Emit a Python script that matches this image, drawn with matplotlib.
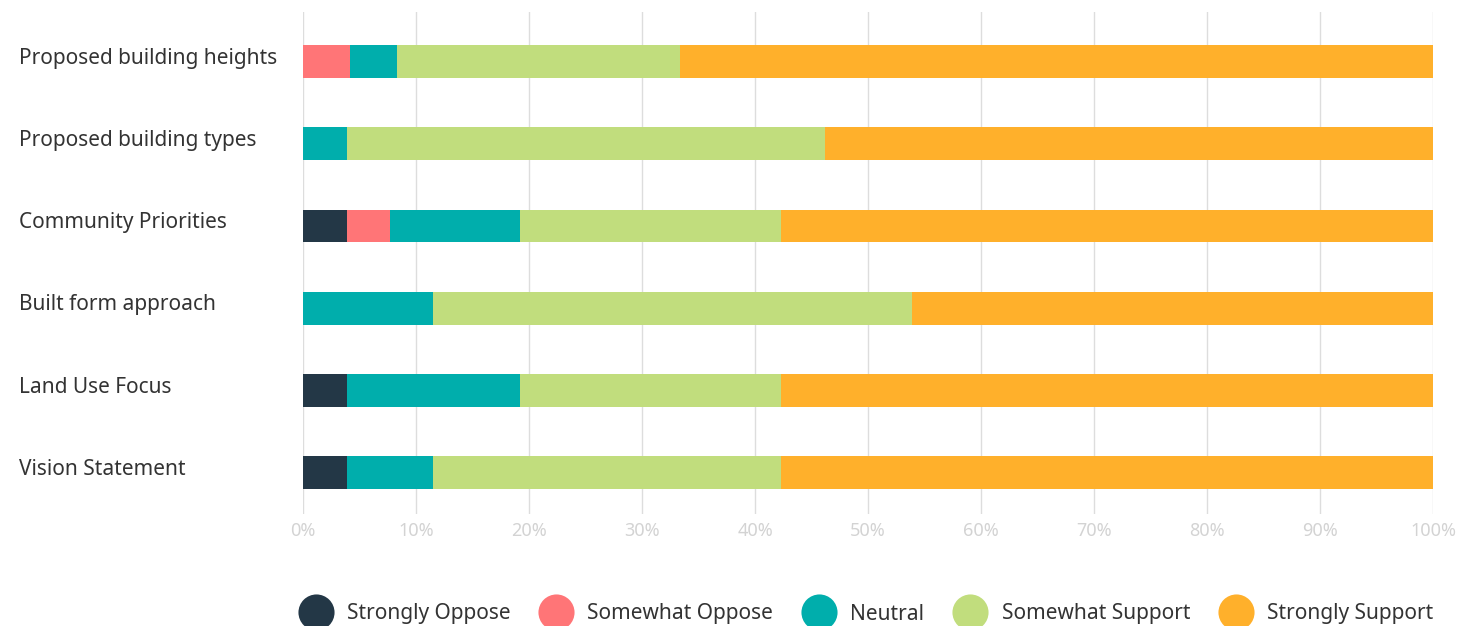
import numpy as np
import matplotlib.pyplot as plt
from matplotlib.lines import Line2D
from matplotlib import transforms

plt.rcParams['font.family'] = ['Noto Sans', 'DejaVu Sans']

# data (percent of respondents), listed top to bottom
categories = ['Proposed building heights', 'Proposed building types', 'Community Priorities',
              'Built form approach', 'Land Use Focus', 'Vision Statement']
series_names = ['Strongly Oppose', 'Somewhat Oppose', 'Neutral', 'Somewhat Support', 'Strongly Support']
strongly_oppose = [0.0, 0.0, 3.85, 0.0, 3.85, 3.85]
somewhat_oppose = [4.17, 0.0, 3.85, 0.0, 0.0, 0.0]
neutral = [4.17, 3.85, 11.54, 11.54, 15.38, 7.69]
somewhat_support = [25.0, 42.31, 23.08, 42.31, 23.08, 30.77]
strongly_support = [66.67, 53.85, 57.69, 46.15, 57.69, 57.69]
tick_labels = ['0%', '10%', '20%', '30%', '40%', '50%', '60%', '70%', '80%', '90%', '100%']

colors = ['#233746', '#ff7577', '#00aeac', '#c1dd7d', '#ffb02b']

fig = plt.figure(figsize=(14.58, 6.26), dpi=100)
ax = fig.add_axes([303 / 1458, 1 - 514 / 626, 1130 / 1458, 502 / 626])

ypos = np.arange(len(categories))[::-1]
left = np.zeros(len(categories))
for name, vals, col in zip(series_names,
                           [strongly_oppose, somewhat_oppose, neutral, somewhat_support, strongly_support],
                           colors):
    vals = np.array(vals)
    ax.barh(ypos, vals, left=left, height=0.4, color=col, edgecolor='none', zorder=3)
    left += vals

ax.set_xlim(0, 100)
ax.set_ylim(-0.5, 5.6)
ax.set_xticks(np.arange(0, 101, 10))
ax.set_xticklabels(tick_labels, color='#d3d3d3', fontsize=13)
ax.tick_params(axis='x', length=0, pad=6)
ax.set_yticks([])
ax.grid(axis='x', color='#dddddd', linewidth=1, zorder=0)
for s in ax.spines.values():
    s.set_visible(False)

trans = transforms.blended_transform_factory(fig.transFigure, ax.transData)
for y, lab in zip(ypos, categories):
    ax.text(19 / 1458, y + 0.04, lab, transform=trans, ha='left', va='center',
            fontsize=15, color='#333333')

handles = [Line2D([], [], linestyle='none', marker='o', markersize=26,
                  markerfacecolor=c, markeredgecolor='none') for c in colors]
fig.legend(handles, series_names, loc='center', bbox_to_anchor=(864 / 1458, 1 - 614 / 626),
           ncol=5, frameon=False, fontsize=15, handletextpad=0.5, columnspacing=1.2,
           labelcolor='#333333')

fig.savefig('out.png', dpi=100)
